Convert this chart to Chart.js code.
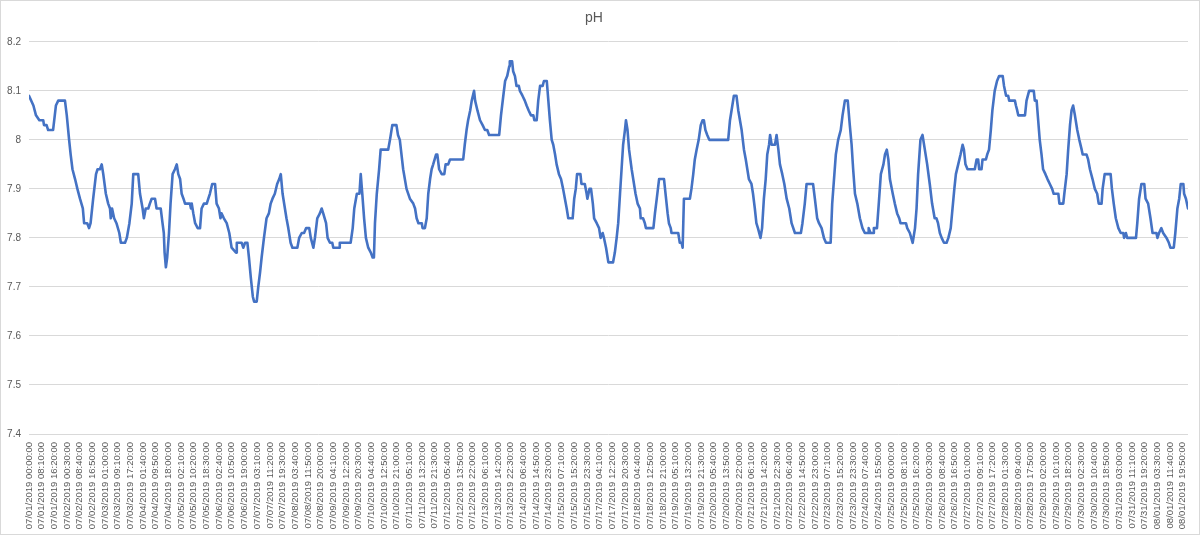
<!DOCTYPE html>
<html>
<head>
<meta charset="utf-8">
<title>pH</title>
<script src="https://cdn.jsdelivr.net/npm/chart.js@4.4.1/dist/chart.umd.min.js"></script>
<style>
    html, body { margin: 0; padding: 0; background: #fff; }
</style>
</head>
<body>
<canvas id="phChart" width="1200" height="535"></canvas>
<script>
// one reading every 10 minutes, gaps in the logger mean the axis is by reading, not by clock
const LABEL_STEP = 49;
const LAST_SAMPLE = 4479;

const tickLabels = [
    '07/01/2019 00:00:00', '07/01/2019 08:10:00', '07/01/2019 16:20:00', '07/02/2019 00:30:00',
    '07/02/2019 08:40:00', '07/02/2019 16:50:00', '07/03/2019 01:00:00', '07/03/2019 09:10:00',
    '07/03/2019 17:20:00', '07/04/2019 01:40:00', '07/04/2019 09:50:00', '07/04/2019 18:00:00',
    '07/05/2019 02:10:00', '07/05/2019 10:20:00', '07/05/2019 18:30:00', '07/06/2019 02:40:00',
    '07/06/2019 10:50:00', '07/06/2019 19:00:00', '07/07/2019 03:10:00', '07/07/2019 11:20:00',
    '07/07/2019 19:30:00', '07/08/2019 03:40:00', '07/08/2019 11:50:00', '07/08/2019 20:00:00',
    '07/09/2019 04:10:00', '07/09/2019 12:20:00', '07/09/2019 20:30:00', '07/10/2019 04:40:00',
    '07/10/2019 12:50:00', '07/10/2019 21:00:00', '07/11/2019 05:10:00', '07/11/2019 13:20:00',
    '07/11/2019 21:30:00', '07/12/2019 05:40:00', '07/12/2019 13:50:00', '07/12/2019 22:00:00',
    '07/13/2019 06:10:00', '07/13/2019 14:20:00', '07/13/2019 22:30:00', '07/14/2019 06:40:00',
    '07/14/2019 14:50:00', '07/14/2019 23:00:00', '07/15/2019 07:10:00', '07/15/2019 15:20:00',
    '07/15/2019 23:30:00', '07/17/2019 04:10:00', '07/17/2019 12:20:00', '07/17/2019 20:30:00',
    '07/18/2019 04:40:00', '07/18/2019 12:50:00', '07/18/2019 21:00:00', '07/19/2019 05:10:00',
    '07/19/2019 13:20:00', '07/19/2019 21:30:00', '07/20/2019 05:40:00', '07/20/2019 13:50:00',
    '07/20/2019 22:00:00', '07/21/2019 06:10:00', '07/21/2019 14:20:00', '07/21/2019 22:30:00',
    '07/22/2019 06:40:00', '07/22/2019 14:50:00', '07/22/2019 23:00:00', '07/23/2019 07:10:00',
    '07/23/2019 15:20:00', '07/23/2019 23:30:00', '07/24/2019 07:40:00', '07/24/2019 15:50:00',
    '07/25/2019 00:00:00', '07/25/2019 08:10:00', '07/25/2019 16:20:00', '07/26/2019 00:30:00',
    '07/26/2019 08:40:00', '07/26/2019 16:50:00', '07/27/2019 01:00:00', '07/27/2019 09:10:00',
    '07/27/2019 17:20:00', '07/28/2019 01:30:00', '07/28/2019 09:40:00', '07/28/2019 17:50:00',
    '07/29/2019 02:00:00', '07/29/2019 10:10:00', '07/29/2019 18:20:00', '07/30/2019 02:30:00',
    '07/30/2019 10:40:00', '07/30/2019 18:50:00', '07/31/2019 03:00:00', '07/31/2019 11:10:00',
    '07/31/2019 19:20:00', '08/01/2019 03:30:00', '08/01/2019 11:40:00', '08/01/2019 19:50:00'
];

// reading number of each vertex of the trace
const sampleIdx = [
    0, 17, 27, 40, 55, 58, 68, 74, 93, 104, 113, 139, 146, 155, 161, 168, 178, 187, 197, 208,
    213, 225, 232, 238, 248, 259, 265, 274, 281, 287, 297, 306, 313, 316, 321, 329, 338, 349, 355, 371,
    378, 388, 397, 403, 422, 429, 439, 444, 451, 461, 467, 474, 487, 493, 509, 516, 521, 524, 529, 534,
    541, 547, 555, 564, 571, 577, 584, 590, 597, 603, 622, 626, 629, 635, 642, 652, 661, 667, 676, 687,
    693, 699, 708, 719, 725, 734, 740, 744, 753, 764, 774, 783, 800, 803, 822, 828, 835, 844, 850, 857,
    865, 870, 880, 886, 893, 899, 908, 918, 927, 934, 941, 950, 959, 967, 973, 980, 989, 995, 1002, 1011,
    1018, 1037, 1044, 1054, 1063, 1071, 1083, 1089, 1099, 1105, 1114, 1124, 1131, 1137, 1148, 1154, 1163, 1172, 1176, 1199,
    1201, 1243, 1251, 1257, 1267, 1277, 1282, 1288, 1295, 1302, 1311, 1321, 1328, 1333, 1337, 1344, 1353, 1359, 1388, 1395,
    1404, 1420, 1426, 1433, 1446, 1459, 1472, 1485, 1492, 1498, 1505, 1518, 1521, 1530, 1537, 1543, 1550, 1556, 1562, 1573,
    1578, 1585, 1595, 1605, 1610, 1620, 1627, 1678, 1684, 1691, 1697, 1705, 1711, 1720, 1724, 1733, 1743, 1753, 1762, 1771,
    1778, 1817, 1824, 1833, 1840, 1848, 1856, 1858, 1867, 1871, 1878, 1884, 1893, 1897, 1907, 1916, 1923, 1931, 1940, 1949,
    1953, 1962, 1968, 1975, 1985, 1990, 2001, 2007, 2013, 2020, 2026, 2033, 2039, 2048, 2056, 2064, 2071, 2078, 2084, 2101,
    2107, 2113, 2118, 2131, 2135, 2148, 2155, 2158, 2166, 2172, 2179, 2184, 2194, 2203, 2209, 2217, 2222, 2230, 2239, 2257,
    2264, 2271, 2277, 2284, 2290, 2296, 2303, 2307, 2313, 2319, 2329, 2335, 2344, 2352, 2361, 2364, 2373, 2380, 2384, 2413,
    2419, 2426, 2435, 2454, 2460, 2468, 2473, 2480, 2483, 2509, 2515, 2522, 2526, 2531, 2554, 2560, 2567, 2573, 2580, 2588,
    2596, 2603, 2608, 2614, 2621, 2629, 2702, 2709, 2715, 2724, 2734, 2741, 2754, 2763, 2770, 2776, 2782, 2792, 2798, 2805,
    2811, 2817, 2827, 2833, 2840, 2847, 2853, 2860, 2864, 2870, 2883, 2889, 2896, 2902, 2911, 2919, 2928, 2938, 2947, 2960,
    2983, 2989, 2998, 3005, 3030, 3037, 3046, 3053, 3063, 3072, 3080, 3098, 3104, 3111, 3118, 3127, 3137, 3144, 3153, 3164,
    3172, 3179, 3185, 3192, 3201, 3211, 3221, 3230, 3243, 3245, 3252, 3262, 3265, 3277, 3284, 3292, 3302, 3308, 3315, 3321,
    3327, 3338, 3346, 3355, 3363, 3368, 3389, 3394, 3404, 3415, 3424, 3430, 3436, 3445, 3453, 3462, 3471, 3481, 3490, 3500,
    3507, 3513, 3520, 3527, 3536, 3546, 3553, 3562, 3569, 3576, 3582, 3591, 3600, 3608, 3613, 3619, 3627, 3655, 3662, 3668,
    3672, 3681, 3685, 3698, 3703, 3710, 3717, 3723, 3732, 3741, 3749, 3763, 3768, 3776, 3784, 3788, 3810, 3814, 3819, 3823,
    3849, 3855, 3865, 3883, 3887, 3894, 3900, 3906, 3913, 3919, 3928, 3936, 3945, 3954, 3960, 3978, 3982, 3997, 4001, 4010,
    4016, 4023, 4029, 4035, 4042, 4051, 4059, 4068, 4072, 4087, 4093, 4100, 4110, 4119, 4128, 4134, 4145, 4149, 4157, 4180,
    4185, 4192, 4200, 4210, 4219, 4229, 4232, 4239, 4244, 4278, 4283, 4290, 4299, 4310, 4315, 4325, 4334, 4342, 4357, 4361,
    4367, 4376, 4383, 4396, 4405, 4411, 4424, 4430, 4438, 4445, 4451, 4461, 4464, 4471, 4479
];

const phValues = [
    8.09, 8.07, 8.05, 8.04, 8.04, 8.03, 8.03, 8.02, 8.02, 8.07, 8.08, 8.08, 8.05, 8.00, 7.97, 7.94, 7.92, 7.90, 7.88, 7.86,
    7.83, 7.83, 7.82, 7.83, 7.88, 7.93, 7.94, 7.94, 7.95, 7.93, 7.89, 7.87, 7.86, 7.84, 7.86, 7.84, 7.83, 7.81, 7.79, 7.79,
    7.80, 7.83, 7.87, 7.93, 7.93, 7.89, 7.86, 7.84, 7.86, 7.86, 7.87, 7.88, 7.88, 7.86, 7.86, 7.83, 7.81, 7.77, 7.74, 7.76,
    7.81, 7.87, 7.93, 7.94, 7.95, 7.93, 7.92, 7.89, 7.88, 7.87, 7.87, 7.86, 7.87, 7.85, 7.83, 7.82, 7.82, 7.86, 7.87, 7.87,
    7.88, 7.89, 7.91, 7.91, 7.87, 7.86, 7.84, 7.85, 7.84, 7.83, 7.81, 7.78, 7.77, 7.79, 7.79, 7.78, 7.79, 7.79, 7.76, 7.72,
    7.68, 7.67, 7.67, 7.70, 7.73, 7.76, 7.80, 7.84, 7.85, 7.87, 7.88, 7.89, 7.91, 7.92, 7.93, 7.89, 7.86, 7.84, 7.82, 7.79,
    7.78, 7.78, 7.80, 7.81, 7.81, 7.82, 7.82, 7.80, 7.78, 7.80, 7.84, 7.85, 7.86, 7.85, 7.83, 7.80, 7.79, 7.79, 7.78, 7.78,
    7.79, 7.79, 7.82, 7.86, 7.89, 7.89, 7.93, 7.89, 7.84, 7.80, 7.78, 7.77, 7.76, 7.76, 7.83, 7.89, 7.94, 7.98, 7.98, 8.00,
    8.03, 8.03, 8.01, 8.00, 7.94, 7.90, 7.88, 7.87, 7.86, 7.84, 7.83, 7.83, 7.82, 7.82, 7.84, 7.89, 7.92, 7.94, 7.95, 7.97,
    7.97, 7.94, 7.93, 7.93, 7.95, 7.95, 7.96, 7.96, 7.99, 8.02, 8.04, 8.06, 8.08, 8.10, 8.08, 8.06, 8.04, 8.03, 8.02, 8.02,
    8.01, 8.01, 8.05, 8.09, 8.12, 8.13, 8.15, 8.16, 8.16, 8.14, 8.13, 8.11, 8.11, 8.10, 8.09, 8.08, 8.07, 8.06, 8.05, 8.05,
    8.04, 8.04, 8.08, 8.11, 8.11, 8.12, 8.12, 8.08, 8.04, 8.00, 7.99, 7.97, 7.95, 7.93, 7.92, 7.90, 7.88, 7.86, 7.84, 7.84,
    7.88, 7.90, 7.93, 7.93, 7.91, 7.91, 7.89, 7.88, 7.90, 7.90, 7.87, 7.84, 7.83, 7.82, 7.80, 7.81, 7.80, 7.78, 7.75, 7.75,
    7.77, 7.80, 7.83, 7.89, 7.94, 7.99, 8.02, 8.04, 8.02, 7.98, 7.94, 7.92, 7.89, 7.87, 7.86, 7.84, 7.84, 7.83, 7.82, 7.82,
    7.85, 7.88, 7.92, 7.92, 7.89, 7.85, 7.83, 7.82, 7.81, 7.81, 7.79, 7.79, 7.78, 7.88, 7.88, 7.90, 7.93, 7.96, 7.98, 8.00,
    8.03, 8.04, 8.04, 8.02, 8.01, 8.00, 8.00, 8.04, 8.06, 8.09, 8.09, 8.06, 8.02, 7.98, 7.96, 7.94, 7.92, 7.91, 7.89, 7.86,
    7.83, 7.82, 7.80, 7.82, 7.88, 7.92, 7.97, 7.99, 8.01, 7.99, 7.99, 8.01, 7.98, 7.95, 7.93, 7.91, 7.88, 7.86, 7.83, 7.81,
    7.81, 7.83, 7.87, 7.91, 7.91, 7.88, 7.84, 7.83, 7.82, 7.80, 7.79, 7.79, 7.87, 7.92, 7.97, 8.00, 8.02, 8.05, 8.08, 8.08,
    8.03, 7.99, 7.94, 7.89, 7.87, 7.84, 7.82, 7.81, 7.81, 7.82, 7.81, 7.81, 7.82, 7.82, 7.87, 7.93, 7.95, 7.97, 7.98, 7.96,
    7.92, 7.89, 7.87, 7.85, 7.84, 7.83, 7.83, 7.82, 7.81, 7.79, 7.82, 7.86, 7.93, 8.00, 8.01, 7.98, 7.95, 7.91, 7.87, 7.84,
    7.84, 7.83, 7.81, 7.80, 7.79, 7.79, 7.80, 7.82, 7.86, 7.90, 7.93, 7.95, 7.97, 7.99, 7.98, 7.95, 7.94, 7.94, 7.96, 7.96,
    7.94, 7.94, 7.96, 7.96, 7.97, 7.98, 8.02, 8.06, 8.10, 8.12, 8.13, 8.13, 8.11, 8.09, 8.09, 8.08, 8.08, 8.07, 8.06, 8.05,
    8.05, 8.08, 8.10, 8.10, 8.08, 8.08, 8.04, 8.00, 7.97, 7.94, 7.93, 7.92, 7.91, 7.90, 7.89, 7.89, 7.87, 7.87, 7.89, 7.93,
    7.98, 8.03, 8.06, 8.07, 8.05, 8.02, 8.00, 7.98, 7.97, 7.97, 7.96, 7.94, 7.92, 7.90, 7.89, 7.87, 7.87, 7.90, 7.93, 7.93,
    7.90, 7.87, 7.84, 7.82, 7.81, 7.81, 7.80, 7.81, 7.80, 7.80, 7.83, 7.88, 7.91, 7.91, 7.88, 7.87, 7.84, 7.81, 7.81, 7.80,
    7.81, 7.82, 7.81, 7.80, 7.79, 7.78, 7.78, 7.81, 7.86, 7.88, 7.91, 7.91, 7.89, 7.88, 7.86
];

const yTicksMin = 7.4;
const yTicksMax = 8.2;
const yTicksStep = 0.1;

const FONT = "'Liberation Sans', Arial, sans-serif";
const TEXT_GREY = '#595959';
const GRID_GREY = '#d9d9d9';

// white page and the thin outline of the chart area like the spreadsheet export
const chartFrame = {
    id: 'chartFrame',
    beforeDraw(chart) {
        const ctx = chart.ctx;
        ctx.save();
        ctx.fillStyle = '#ffffff';
        ctx.fillRect(0, 0, chart.width, chart.height);
        ctx.restore();
    },
    afterDraw(chart) {
        const ctx = chart.ctx;
        ctx.save();
        ctx.strokeStyle = GRID_GREY;
        ctx.lineWidth = 1;
        ctx.strokeRect(0.5, 0.5, chart.width - 1, chart.height - 1);
        ctx.restore();
    }
};

window.addEventListener('DOMContentLoaded', () => {
    const ctx = document.getElementById('phChart').getContext('2d');
    const points = sampleIdx.map((x, i) => ({ x: x, y: phValues[i] }));

    new Chart(ctx, {
        type: 'line',
        data: {
            datasets: [{
                label: 'pH',
                data: points,
                borderColor: '#4472c4',
                borderWidth: 2.6,
                borderJoinStyle: 'round',
                borderCapStyle: 'round',
                pointRadius: 0,
                tension: 0,
                fill: false
            }]
        },
        options: {
            responsive: false,
            animation: false,
            parsing: false,
            layout: { padding: { left: 0, right: 12, top: 0, bottom: 0 } },
            scales: {
                x: {
                    type: 'linear',
                    min: 0,
                    max: LAST_SAMPLE,
                    grid: { display: false, drawTicks: false },
                    border: { display: false },
                    ticks: {
                        autoSkip: false,
                        minRotation: 90,
                        maxRotation: 90,
                        padding: 8,
                        color: TEXT_GREY,
                        font: { family: FONT, size: 9.5 },
                        callback: (value) => tickLabels[Math.round(value / LABEL_STEP)]
                    },
                    // a label on every 49th reading
                    afterBuildTicks: (scale) => {
                        scale.ticks = tickLabels.map((_, i) => ({ value: i * LABEL_STEP }));
                    },
                    afterFit: (scale) => {
                        scale.height = 101;
                        scale.paddingLeft = 0;
                        scale.paddingRight = 0;
                    }
                },
                y: {
                    min: yTicksMin,
                    max: yTicksMax,
                    grid: { color: GRID_GREY, lineWidth: 1, drawTicks: false },
                    border: { display: false },
                    ticks: {
                        stepSize: yTicksStep,
                        padding: 8,
                        color: TEXT_GREY,
                        font: { family: FONT, size: 10 },
                        callback: (value) => Number(value.toFixed(1)).toString()
                    },
                    afterFit: (scale) => { scale.width = 29; }
                }
            },
            plugins: {
                legend: { display: false },
                tooltip: { enabled: false },
                title: {
                    display: true,
                    text: 'pH',
                    color: TEXT_GREY,
                    font: { family: FONT, size: 14, weight: 'normal' },
                    padding: { top: 10, bottom: 15 }
                }
            }
        },
        plugins: [chartFrame]
    });
});
</script>
</body>
</html>
